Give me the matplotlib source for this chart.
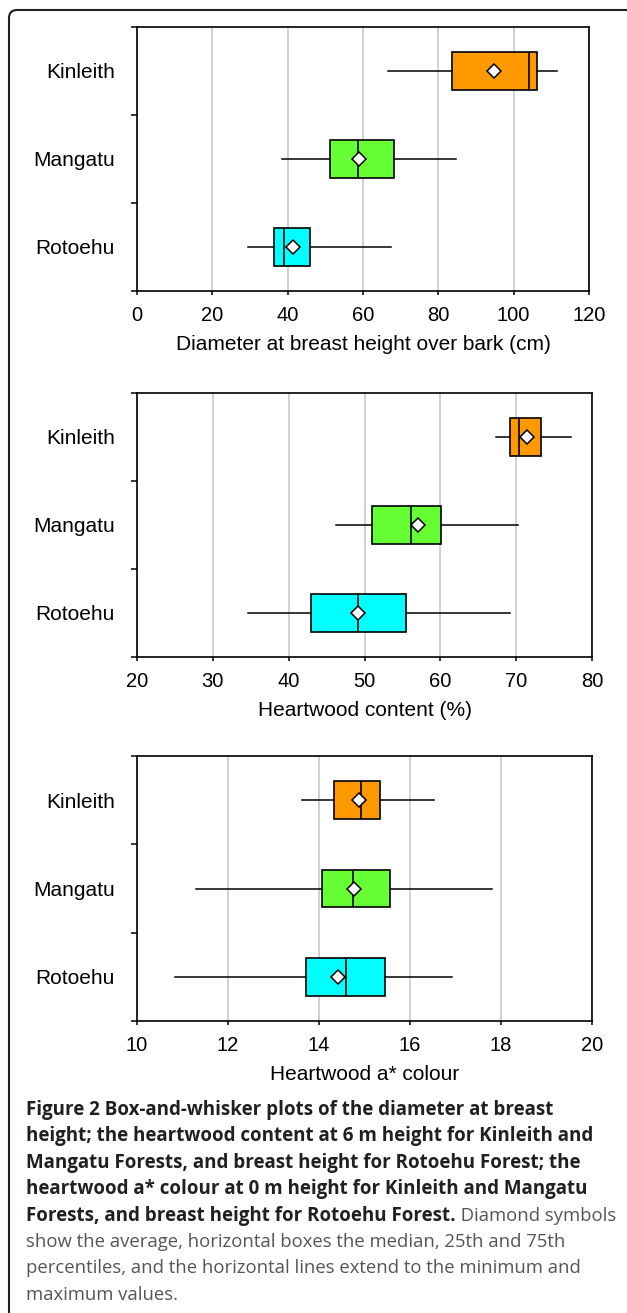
import matplotlib.pyplot as plt
from matplotlib.patches import PathPatch
from matplotlib.path import Path

# forests, bottom to top on the y axis
forests = ['Rotoehu', 'Mangatu', 'Kinleith']
box_colours = ['#00ffff', '#66ff33', '#ff9900']

# diameter at breast height over bark (cm): min, q1, median, q3, max, mean
dbh_min = [29.5, 38.4, 66.6]
dbh_q1 = [36.3, 51.2, 83.7]
dbh_med = [38.9, 58.6, 104.0]
dbh_q3 = [45.9, 68.1, 106.1]
dbh_max = [67.5, 84.6, 111.5]
dbh_mean = [41.5, 59.0, 94.9]

# heartwood content (%)
hw_min = [34.6, 46.3, 67.3]
hw_q1 = [42.9, 51.0, 69.2]
hw_med = [49.1, 56.1, 70.4]
hw_q3 = [55.5, 60.1, 73.3]
hw_max = [69.2, 70.3, 77.2]
hw_mean = [49.1, 57.1, 71.4]

# heartwood a* colour
col_min = [10.84, 11.30, 13.63]
col_q1 = [13.71, 14.07, 14.34]
col_med = [14.59, 14.74, 14.92]
col_q3 = [15.45, 15.55, 15.34]
col_max = [16.92, 17.81, 16.53]
col_mean = [14.42, 14.77, 14.88]

panels = [
    (dbh_min, dbh_q1, dbh_med, dbh_q3, dbh_max, dbh_mean,
     (0, 120), [0, 20, 40, 60, 80, 100, 120], 'Diameter at breast height over bark (cm)'),
    (hw_min, hw_q1, hw_med, hw_q3, hw_max, hw_mean,
     (20, 80), [20, 30, 40, 50, 60, 70, 80], 'Heartwood content (%)'),
    (col_min, col_q1, col_med, col_q3, col_max, col_mean,
     (10, 20), [10, 12, 14, 16, 18, 20], 'Heartwood a* colour'),
]

plt.rcParams['font.family'] = ['Liberation Sans', 'DejaVu Sans']

W, H = 627, 1313
fig = plt.figure(figsize=(W / 100, H / 100), dpi=100)

# axes boxes in pixels: left, top, right, bottom
ax_px = [(137, 27, 589, 291), (137, 393, 592, 657), (137, 756, 592, 1021)]

for (lo, q1, med, q3, hi, mean, xlim, xticks, xlabel), (l, t, r, b) in zip(panels, ax_px):
    ax = fig.add_axes([l / W, 1 - b / H, (r - l) / W, (b - t) / H])
    stats = []
    for i in range(len(forests)):
        stats.append(dict(whislo=lo[i], q1=q1[i], med=med[i], q3=q3[i],
                          whishi=hi[i], mean=mean[i], fliers=[]))
    pos = [0.5, 1.5, 2.5]
    bp = ax.bxp(stats, positions=pos, vert=False, widths=0.43, patch_artist=True,
                showmeans=True, showcaps=False, showfliers=False,
                boxprops=dict(edgecolor='black', linewidth=1.2),
                medianprops=dict(color='black', linewidth=1.2),
                whiskerprops=dict(color='black', linewidth=1.1),
                meanprops=dict(marker='D', markerfacecolor='white',
                               markeredgecolor='black', markersize=7.5,
                               markeredgewidth=1.1))
    for patch, c in zip(bp['boxes'], box_colours):
        patch.set_facecolor(c)
        patch.set_zorder(3)
    for k in ('medians', 'whiskers', 'means'):
        for art in bp[k]:
            art.set_zorder(4 if k != 'means' else 5)

    ax.set_xlim(*xlim)
    ax.set_ylim(0, 3)
    ax.set_xticks(xticks)
    ax.set_yticks([0, 1, 2, 3])
    ax.set_yticklabels([])
    ax.set_yticks(pos, minor=True)
    ax.set_yticklabels(forests, minor=True, fontsize=15)
    ax.tick_params(axis='y', which='minor', length=0, pad=16)
    ax.tick_params(axis='y', which='major', length=4.5, width=1.1, direction='out')
    ax.tick_params(axis='x', which='major', length=3, width=1.1, direction='out',
                   labelsize=14.5, pad=8)
    ax.set_xlabel(xlabel, fontsize=15, labelpad=7)
    ax.grid(axis='x', color='#c4c4c4', linewidth=1.1, zorder=0)
    ax.set_axisbelow(True)
    for s in ax.spines.values():
        s.set_linewidth(1.2)

# frame: left edge and top edge with a rounded top-left corner (pixel coords)
fx, fy, rad = 9, H - 10, 8
frame_path = Path([(fx, -5), (fx, fy - rad), (fx, fy), (fx + rad, fy), (W + 5, fy)],
                  [Path.MOVETO, Path.LINETO, Path.CURVE3, Path.CURVE3, Path.LINETO])
frame = PathPatch(frame_path, transform=None, fill=False, edgecolor='#231f20',
                  linewidth=1.5)
fig.add_artist(frame)

# caption
cap_font = ['Open Sans', 'DejaVu Sans']
bold_lines = [
    'Figure 2 Box-and-whisker plots of the diameter at breast',
    'height; the heartwood content at 6 m height for Kinleith and',
    'Mangatu Forests, and breast height for Rotoehu Forest; the',
    'heartwood a* colour at 0 m height for Kinleith and Mangatu',
    'Forests, and breast height for Rotoehu Forest.',
]
plain_lines = [
    ' Diamond symbols',
    'show the average, horizontal boxes the median, 25th and 75th',
    'percentiles, and the horizontal lines extend to the minimum and',
    'maximum values.',
]
x0 = 26
y_first = 1110
step = 26.4
fig.canvas.draw()
renderer = fig.canvas.get_renderer()
for i, line in enumerate(bold_lines):
    y = 1 - (y_first + i * step) / H
    txt = fig.text(x0 / W, y, line, family=cap_font, fontweight='bold', fontsize=13.5,
                   color='#231f20', va='center', ha='left')
last = txt.get_window_extent(renderer)
fig.text(last.x1 / W, 1 - (y_first + 4 * step) / H, plain_lines[0], family=cap_font,
         fontsize=13.3, color='#555555', va='center', ha='left')
for j, line in enumerate(plain_lines[1:]):
    y = 1 - (y_first + (5 + j) * step) / H
    fig.text(x0 / W, y, line, family=cap_font, fontsize=13.3, color='#555555',
             va='center', ha='left')

fig.savefig('out.png', dpi=100)
